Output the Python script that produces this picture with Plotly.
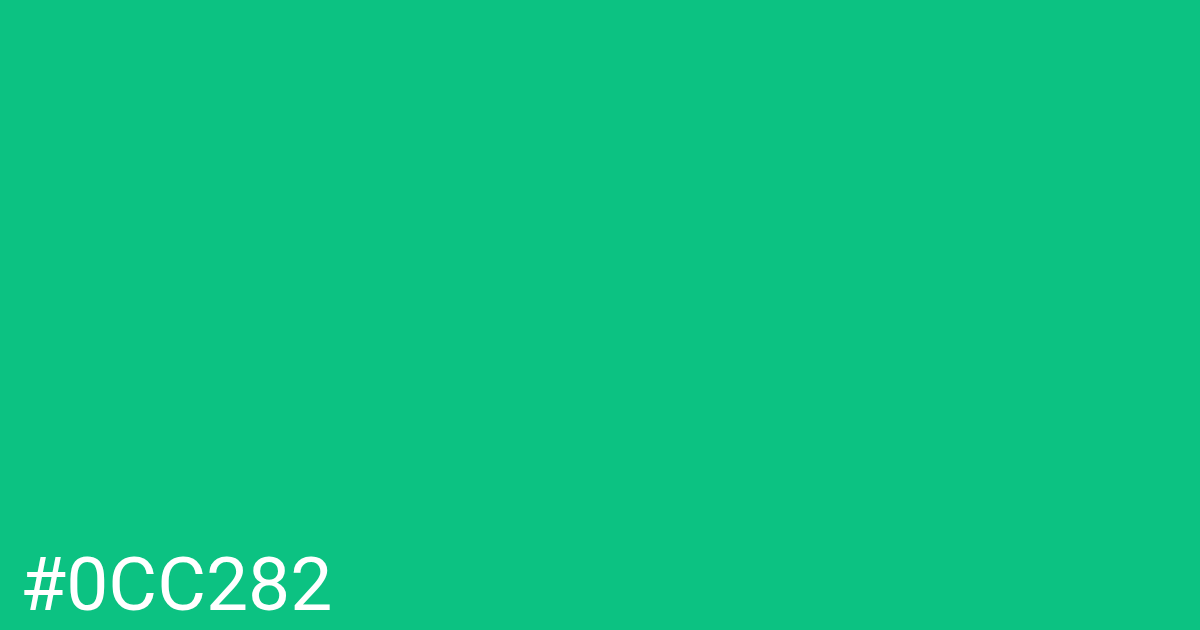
import plotly.graph_objects as go

# swatch shown on the card
swatch_hex = ["#0CC282"]
swatch_label = ["#0CC282"]

W, H = 1200, 630

fig = go.Figure()

fig.add_annotation(
    text=swatch_label[0],
    xref="paper",
    yref="paper",
    x=19 / W,
    y=1 / H,
    xanchor="left",
    yanchor="bottom",
    showarrow=False,
    font=dict(family="Roboto", size=75, color="#ffffff"),
    borderpad=0,
)

fig.update_layout(
    width=W,
    height=H,
    margin=dict(l=0, r=0, t=0, b=0),
    paper_bgcolor=swatch_hex[0],
    plot_bgcolor=swatch_hex[0],
    xaxis=dict(visible=False),
    yaxis=dict(visible=False),
    showlegend=False,
)

# drop the browser's default page margin so the card fills the window
fig.write_html(
    "out.html",
    config={"displayModeBar": False},
    post_script="document.body.style.margin='0';document.body.style.background='" + swatch_hex[0] + "';",
)
